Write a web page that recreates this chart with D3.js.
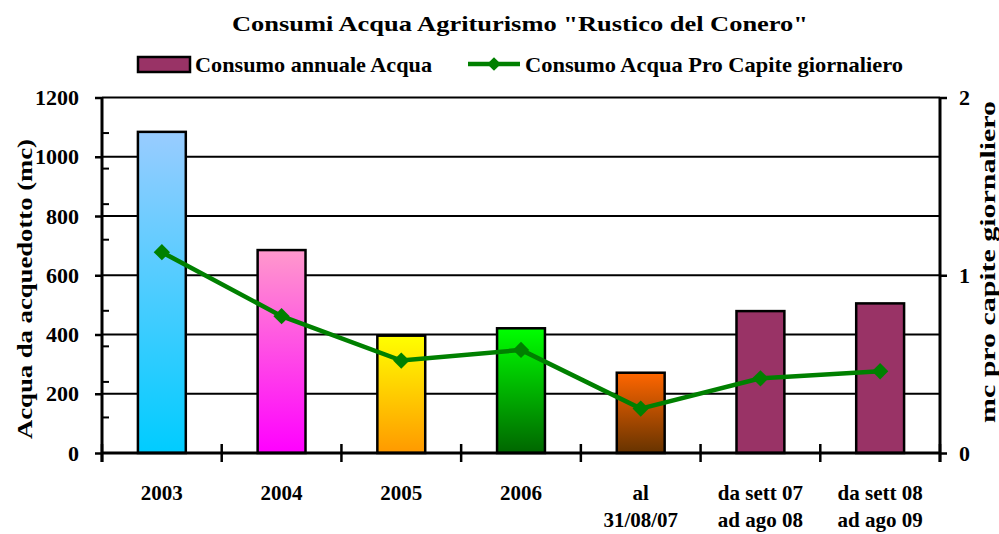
<!DOCTYPE html>
<html lang="it">
<head>
<meta charset="UTF-8"/>
<title>Consumi Acqua</title>
<script src="https://d3js.org/d3.v7.min.js"></script>
<style>
  body { margin: 0; background: #fff; }
  text { font-family: "Liberation Serif", "DejaVu Serif", serif; fill: #000; }
  .title { font-size: 22px; font-weight: bold; }
  .legend { font-size: 21px; font-weight: bold; }
  .tick-l { font-size: 22px; font-weight: bold; }
  .cat { font-size: 21px; font-weight: bold; }
  .axis-title { font-size: 21px; font-weight: bold; }
</style>
</head>
<body>
<script>
// data
const categories = ["2003", "2004", "2005", "2006", "al\n31/08/07", "da sett 07\nad ago 08", "da sett 08\nad ago 09"]
const annualWater = [1084, 685, 396, 421, 271, 479, 505]
const perCapita = [1.13, 0.77, 0.52, 0.58, 0.25, 0.42, 0.46]
const leftTicks = [0, 200, 400, 600, 800, 1000, 1200]
const leftMinor = [120, 240, 360, 480, 720, 840, 960, 1080]
const rightTicks = [0, 1, 2]
const barColors = [
  ["#99ccff", "#00ccff"],
  ["#ff99cc", "#ff00ff"],
  ["#ffff00", "#ff9900"],
  ["#00ff00", "#006600"],
  ["#ff6600", "#663300"],
  ["#993366", "#993366"],
  ["#993366", "#993366"]
]

const W = 999, H = 534
const margin = {top: 97.5, right: 59, bottom: 81, left: 102}

const svg = d3.select("body").append("svg")
    .attr("width", W)
    .attr("height", H)

const x = d3.scaleBand()
    .domain(categories)
    .range([margin.left, W - margin.right])

const y = d3.scaleLinear()
    .domain([0, 1200])
    .range([H - margin.bottom, margin.top])

const y2 = d3.scaleLinear()
    .domain([0, 2])
    .range([H - margin.bottom, margin.top])

// gradients
const defs = svg.append("defs")
barColors.forEach((c, i) => {
  const g = defs.append("linearGradient")
      .attr("id", "grad" + i)
      .attr("x1", 0).attr("y1", 0).attr("x2", 0).attr("y2", 1)
  g.append("stop").attr("offset", "0%").attr("stop-color", c[0])
  g.append("stop").attr("offset", "100%").attr("stop-color", c[1])
})

// gridlines
svg.append("g")
  .selectAll("line")
  .data(leftTicks)
  .join("line")
    .attr("x1", margin.left)
    .attr("x2", W - margin.right)
    .attr("y1", d => y(d))
    .attr("y2", d => y(d))
    .attr("stroke", "#000")
    .attr("stroke-width", 2)

// left axis
const yAxis = svg.append("g")
    .attr("transform", `translate(${margin.left},0)`)
    .call(d3.axisLeft(y).tickValues(leftTicks).tickSize(7).tickPadding(16).tickSizeOuter(0).tickFormat(d3.format("d")))
yAxis.select(".domain").remove()
yAxis.selectAll(".tick line").attr("stroke-width", 2.5)
yAxis.selectAll(".tick text").attr("class", "tick-l")

svg.append("g")
  .selectAll("line")
  .data(leftMinor)
  .join("line")
    .attr("x1", margin.left)
    .attr("x2", margin.left + 7)
    .attr("y1", d => y(d))
    .attr("y2", d => y(d))
    .attr("stroke", "#000")
    .attr("stroke-width", 2)

svg.append("line")
    .attr("x1", margin.left).attr("x2", margin.left)
    .attr("y1", margin.top).attr("y2", H - margin.bottom + 9)
    .attr("stroke", "#000").attr("stroke-width", 3)

// right axis
const y2Axis = svg.append("g")
    .attr("transform", `translate(${W - margin.right},0)`)
    .call(d3.axisRight(y2).tickValues(rightTicks).tickSize(7).tickPadding(12).tickFormat(d3.format("d")))
y2Axis.select(".domain").remove()
y2Axis.selectAll(".tick line").attr("stroke-width", 2.5)
y2Axis.selectAll(".tick text").attr("class", "tick-l")

svg.append("line")
    .attr("x1", W - margin.right).attr("x2", W - margin.right)
    .attr("y1", margin.top).attr("y2", H - margin.bottom + 9)
    .attr("stroke", "#000").attr("stroke-width", 3)

// bars
const barW = x.bandwidth() * 0.4
svg.append("g")
  .selectAll("rect")
  .data(annualWater)
  .join("rect")
    .attr("x", (d, i) => x(categories[i]) + (x.bandwidth() - barW) / 2)
    .attr("y", d => y(d))
    .attr("width", barW)
    .attr("height", d => y(0) - y(d))
    .attr("fill", (d, i) => `url(#grad${i})`)
    .attr("stroke", "#000")
    .attr("stroke-width", 2.5)

// bottom axis
svg.append("line")
    .attr("x1", margin.left).attr("x2", W - margin.right)
    .attr("y1", y(0)).attr("y2", y(0))
    .attr("stroke", "#000").attr("stroke-width", 3)

const bounds = categories.map(c => x(c)).concat([W - margin.right])
svg.append("g")
  .selectAll("line")
  .data(bounds)
  .join("line")
    .attr("x1", d => d).attr("x2", d => d)
    .attr("y1", y(0) - 9).attr("y2", y(0) + 9)
    .attr("stroke", "#000").attr("stroke-width", 2.5)

svg.append("g")
  .selectAll("text")
  .data(categories)
  .join("text")
    .attr("class", "cat")
    .attr("text-anchor", "middle")
    .attr("transform", d => `translate(${x(d) + x.bandwidth() / 2},${y(0) + 47})`)
  .selectAll("tspan")
  .data(d => d.split("\n"))
  .join("tspan")
    .attr("x", 0)
    .attr("dy", (d, i) => i === 0 ? 0 : 27)
    .text(d => d)

// line series
const line = d3.line()
    .x((d, i) => x(categories[i]) + x.bandwidth() / 2)
    .y(d => y2(d))

svg.append("path")
    .datum(perCapita)
    .attr("d", line)
    .attr("fill", "none")
    .attr("stroke", "#008000")
    .attr("stroke-width", 4.5)

svg.append("g")
  .selectAll("path")
  .data(perCapita)
  .join("path")
    .attr("d", d3.symbol(d3.symbolDiamond2, 170))
    .attr("transform", (d, i) => `translate(${x(categories[i]) + x.bandwidth() / 2},${y2(d)})`)
    .attr("fill", "#008000")

// axis titles
svg.append("text")
    .attr("class", "axis-title")
    .attr("text-anchor", "middle")
    .attr("transform", "translate(32,289) rotate(-90)")
    .attr("textLength", 300)
    .attr("lengthAdjust", "spacingAndGlyphs")
    .text("Acqua da acquedotto (mc)")

svg.append("text")
    .attr("class", "axis-title")
    .attr("text-anchor", "middle")
    .attr("transform", "translate(995,262) rotate(-90)")
    .attr("textLength", 322)
    .attr("lengthAdjust", "spacingAndGlyphs")
    .text("mc pro capite giornaliero")

// title
svg.append("text")
    .attr("class", "title")
    .attr("x", 232)
    .attr("y", 31)
    .attr("textLength", 576)
    .attr("lengthAdjust", "spacingAndGlyphs")
    .text("Consumi Acqua Agriturismo \"Rustico del Conero\"")

// legend
const legend = svg.append("g")
legend.append("rect")
    .attr("x", 138).attr("y", 57)
    .attr("width", 52).attr("height", 15)
    .attr("fill", "#993366")
    .attr("stroke", "#000").attr("stroke-width", 2.5)
legend.append("text")
    .attr("class", "legend")
    .attr("x", 195).attr("y", 72)
    .attr("textLength", 237)
    .attr("lengthAdjust", "spacingAndGlyphs")
    .text("Consumo annuale Acqua")
legend.append("line")
    .attr("x1", 468).attr("x2", 520)
    .attr("y1", 64).attr("y2", 64)
    .attr("stroke", "#008000").attr("stroke-width", 4.5)
legend.append("path")
    .attr("d", d3.symbol(d3.symbolDiamond2, 120))
    .attr("transform", "translate(494,64)")
    .attr("fill", "#008000")
legend.append("text")
    .attr("class", "legend")
    .attr("x", 525).attr("y", 72)
    .attr("textLength", 378)
    .attr("lengthAdjust", "spacingAndGlyphs")
    .text("Consumo Acqua Pro Capite giornaliero")
</script>
</body>
</html>
